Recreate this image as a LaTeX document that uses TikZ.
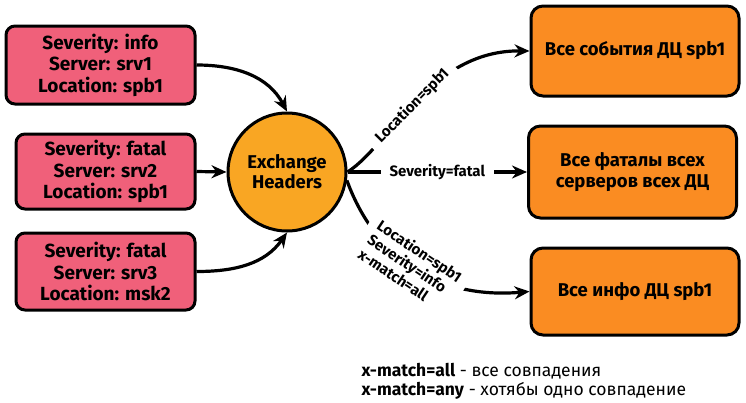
\documentclass[tikz,border=0pt]{standalone}
\usepackage{fontspec}
\setmainfont{Fira Sans}
\usetikzlibrary{arrows.meta}
\definecolor{msgpink}{RGB}{240,96,122}
\definecolor{exorange}{RGB}{249,166,35}
\definecolor{qorange}{RGB}{250,140,34}
\begin{document}
\begin{tikzpicture}[x=1pt, y=-1pt,
    msg/.style={draw, line width=3pt, rounded corners=9pt, fill=msgpink, align=center,
        font=\bfseries\fontsize{19}{21.5}\selectfont},
    queue/.style={draw, line width=3pt, rounded corners=12pt, fill=qorange, align=center,
        font=\bfseries\fontsize{18.5}{21}\selectfont, minimum width=208pt},
    link/.style={line width=3.2pt, -{Stealth[length=15pt, width=13pt]}},
    bind/.style={fill=white, inner xsep=9pt, inner ysep=3pt, font=\bfseries\fontsize{15}{17}\selectfont}]
        \useasboundingbox (0,0) rectangle (746,402);

        % Source messages
        \node[msg, minimum width=189pt, minimum height=78pt] (m1) at (100.5,65)
            {Severity: info\\Server: srv1\\Location: spb1};
        \node[msg, minimum width=179pt, minimum height=75pt] (m2) at (105.5,171.5)
            {Severity: fatal\\Server: srv2\\Location: spb1};
        \node[msg, minimum width=179pt, minimum height=77pt] (m3) at (105.5,271.5)
            {Severity: fatal\\Server: srv3\\Location: msk2};

        % Exchange
        \node[circle, draw, line width=3pt, fill=exorange, minimum size=118pt, align=center,
            font=\bfseries\fontsize{18.5}{20}\selectfont] (ex) at (287,172) {Exchange\\Headers};

        % Queues
        \node[queue, minimum height=90pt] (qa) at (635,51) {Все события ДЦ spb1};
        \node[queue, minimum height=92pt] (qb) at (632.5,172) {Все фаталы всех\\серверов всех ДЦ};
        \node[queue, minimum height=87pt] (qc) at (635,291.5) {Все инфо ДЦ spb1};

        % Incoming messages
        \draw[link] (m1.east) to[out=0, in=118] (ex.north);
        \draw[link] (m2.east) -- (ex.west);
        \draw[link] (m3.east) to[out=0, in=235] (ex.south);

        % Bindings
        \draw[link] (ex.east) .. controls (390,145) and (430,50) .. (qa.west)
            node[bind, pos=0.47, sloped] {Location=spb1};
        \draw[link] (ex.east) -- (qb.west)
            node[bind, midway] {Severity=fatal};
        \draw[link] (ex.-8) .. controls (372,250) and (430,300) .. (qc.west)
            node[bind, midway, sloped, align=left] {Location=spb1\\Severity=info\\x-match=all};

        % Legend
        \node[anchor=west, align=left, font=\fontsize{17.5}{19}\selectfont] (legend) at (358,381)
            {\textbf{x-match=all} - все совпадения\\\textbf{x-match=any} - хотябы одно совпадение};
\end{tikzpicture}
\end{document}
